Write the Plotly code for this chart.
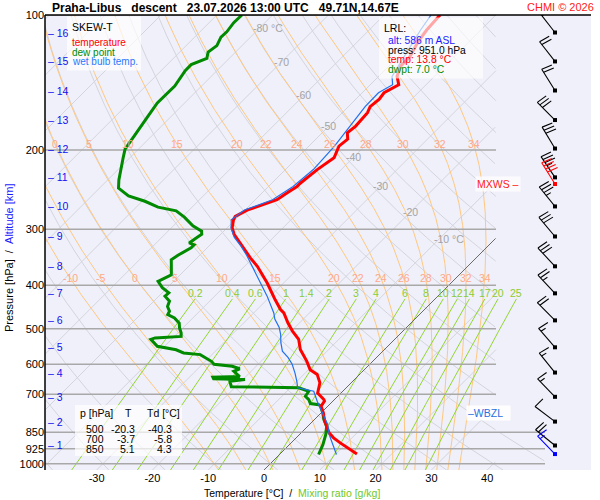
import numpy as np
import plotly.graph_objects as go

# --- sounding profiles (hPa, degC) ---
T_P = [951, 926, 898, 875, 853, 825, 797, 770, 744, 725, 719, 695, 660, 632, 617, 591,
       556, 528, 506, 485, 461, 453, 431, 395, 363, 348, 322, 308, 298, 286, 281, 272,
       269, 264, 258, 249, 241, 237, 221, 208, 196, 189, 183, 177, 165, 160, 154, 149,
       143, 137, 130, 124, 115, 108, 100]
T_C = [13.8, 11.4, 8.8, 6.7, 5.0, 3.4, 1.8, 0.4, -1.2, -1.5, -1.9, -4.2, -5.6, -7.6, -9.7, -11.8,
       -15.1, -17.2, -19.8, -22.1, -24.6, -25.8, -28.5, -33.0, -37.7, -40.4, -44.9, -47.6, -49.1, -50.3, -50.6, -49.6,
       -48.8, -47.6, -46.1, -45.5, -44.9, -44.9, -44.3, -43.4, -44.6, -44.3, -45.5, -45.2, -45.5, -46.1, -45.8, -46.1,
       -44.9, -46.7, -47.9, -47.9, -49.1, -49.7, -50.0]

TD_P = [953, 906, 860, 825, 797, 770, 744, 738, 734, 719, 707, 689, 677, 673, 655, 649, 646, 641, 639, 622,
        614, 606, 600, 591, 571, 566, 557, 547, 528, 524, 520, 511, 498, 486, 473, 465, 457, 446, 434, 423,
        416, 405, 392, 379, 360, 351, 343, 330, 325, 322, 315, 308, 303, 295, 282, 273, 268, 260, 253, 243,
        233, 219, 208, 199, 189, 168, 157, 144, 133, 129, 125, 121, 117, 112, 109, 104, 100]
TD_C = [7.0, 6.0, 4.7, 3.4, 1.7, 0.3, -1.3, -1.9, -3.6, -4.6, -5.8, -6.1, -8.5, -20.8, -22.0, -19.6, -25.4, -25.8, -21.1, -23.1,
        -22.5, -24.3, -27.9, -28.9, -32.1, -35.4, -37.3, -41.3, -43.7, -43.2, -38.8, -39.4, -40.6, -41.5, -43.3, -45.1, -45.4, -46.6, -47.2, -48.9,
        -48.8, -50.9, -52.8, -51.6, -53.4, -54.3, -53.9, -52.9, -52.9, -54.1, -53.8, -53.4, -54.0, -56.5, -59.6, -62.2, -66.1, -69.5, -73.4, -76.6,
        -78.0, -79.8, -81.2, -82.4, -82.9, -84.2, -84.9, -84.8, -85.7, -85.7, -84.0, -84.9, -84.5, -85.3, -85.2, -85.6, -85.5]

TW_P = [953, 903, 860, 818, 770, 725, 689, 677, 655, 628, 600, 580, 561, 537, 515, 497, 476, 461, 423, 395,
        369, 343, 327, 313, 298, 286, 272, 258, 241, 221, 196, 177, 160, 149, 143, 137, 124, 108, 100]
TW_C = [10.2, 7.7, 5.3, 3.3, 0.2, -2.8, -5.2, -8.7, -10.0, -11.8, -13.9, -15.8, -18.0, -19.8, -21.3, -22.8, -25.1, -26.4, -30.6, -34.2,
        -37.8, -41.6, -44.3, -47.0, -49.3, -50.7, -50.1, -46.9, -45.6, -45.0, -45.4, -46.2, -47.0, -47.1, -46.0, -47.6, -48.9, -50.8, -51.6]

# altitude levels (km) and their pressure, winds at each km
KM = list(range(1, 17))
KM_P = [910, 805, 709, 626, 550, 479, 417, 363, 311.5, 267, 230, 198.4, 171.4, 147.3, 126.9, 109.4]
WIND_DIR = [309, 307, 316, 321, 319, 315, 317, 317, 320, 321, 326, 329, 315, 328, 322, 322]
WIND_KT = [20, 10, 15, 15, 15, 20, 25, 30, 30, 35, 35, 30, 30, 20, 20, 15]
SFC_P, SFC_DIR, SFC_KT = 951, 316, 15
MXWS_P, MXWS_DIR, MXWS_KT = 238, 328, 40
WBZL_P = 769

# table / LRL info
TABLE_P = [500, 700, 850]
TABLE_T = [-20.3, -3.7, 5.1]
TABLE_TD = [-40.3, -5.8, 4.3]
LRL_ALT, LRL_PRESS, LRL_TEMP, LRL_DWPT = 586, 951.0, 13.8, 7.0

# background line families
PRESS_TICKS = [100, 200, 300, 400, 500, 600, 700, 850, 925, 1000]
TEMP_TICKS = [-30, -20, -10, 0, 10, 20, 30, 40]
ISOTHERMS = list(range(-130, 41, 10))
DRY_THETA = list(range(-40, 201, 10))
MOIST_TW = [-10, -5, 0, 5, 10, 15, 20, 22, 24, 26, 28, 30, 32, 34]
MIX_RATIOS = [0.2, 0.4, 0.6, 1, 1.4, 2, 3, 4, 6, 8, 10, 12, 14, 17, 20, 25]
MIX_LABELS = ["0.2", "0.4", "0.6", "1", "1.4", "2", "3", "4", "6", "8", "10", "12", "14", "17", "20", "25"]
ISO_LABEL_T = [-80, -70, -60, -50, -40, -30, -20, -10]
ISO_LABEL_P = [107, 127, 151, 177, 207, 240, 275, 315]

# --- geometry of the figure ---
W, H = 600, 500
ML, MR, MT, MB = 45, 9, 15, 30
PW, PH = W - ML - MR, H - MT - MB
X_LEFT, X_RIGHT = -39.25, 58.6
P_BOTTOM, P_TOP = 1032.0, 100.0
P_MIX_TOP = 429
PXD = PW / (X_RIGHT - X_LEFT)                      # px per degree
PYD = PH / (np.log10(P_BOTTOM) - np.log10(P_TOP))  # px per decade
SKEW = PYD / PXD                                   # 45 degree skew
XR1 = X_LEFT + (496 - ML) / PXD                    # right edge of diagram
XR2 = X_LEFT + (545 - ML) / PXD                    # lower levels reach further
BARB_X = X_LEFT + (555 - ML) / PXD

FONT = "Liberation Sans, Arial, sans-serif"
BG = "#f0f0fa"


def skew_x(t, p):
    return np.asarray(t, float) + SKEW * (np.log10(P_BOTTOM) - np.log10(np.asarray(p, float)))


def px(x):
    return (x - ML) / PW


def py(y):
    return (MT + PH - y) / PH


def clip(x, p, step=False):
    x = np.array(x, float)
    lim = np.where(np.asarray(p) >= 850, XR2, XR1) if step else XR1
    x[x > lim] = np.nan
    return x


fig = go.Figure()


def add_lines(xs, ps, color, width, dash=None):
    X, Y = [], []
    for x, p in zip(xs, ps):
        X += list(x) + [None]
        Y += list(p) + [None]
    fig.add_trace(go.Scatter(x=X, y=Y, mode="lines", line=dict(color=color, width=width, dash=dash),
                             hoverinfo="skip", showlegend=False, connectgaps=False))


P_FINE = np.logspace(np.log10(P_BOTTOM), np.log10(P_TOP), 500)

# isotherms and dry adiabats
add_lines([clip(skew_x(np.full_like(P_FINE, t), P_FINE), P_FINE) for t in ISOTHERMS if t != 0],
          [P_FINE] * (len(ISOTHERMS) - 1), "#d4d4dc", 1)
dry = [(th + 273.15) * (P_FINE / 1000.0) ** 0.2857 - 273.15 for th in DRY_THETA]
add_lines([clip(skew_x(t, P_FINE), P_FINE, step=True) for t in dry], [P_FINE] * len(dry), "#d4d4dc", 1)

# pseudo-adiabats (RK4 in ln p)
RD, CP, LV, EPS = 287.04, 1005.7, 2.501e6, 0.622


def dtdlnp(tk, p):
    tc = tk - 273.15
    e = 6.112 * np.exp(17.67 * tc / (tc + 243.5))
    rs = EPS * e / (p - e)
    return (RD * tk + LV * rs) / (CP + LV * LV * rs * EPS / (RD * tk * tk))


def integrate(t0, plev):
    lnp = np.log(plev)
    t = np.array(t0, float)
    out = [t.copy()]
    for a, b in zip(lnp[:-1], lnp[1:]):
        h = b - a
        pa, pm, pb = np.exp(a), np.exp(a + h / 2), np.exp(b)
        k1 = dtdlnp(t, pa)
        k2 = dtdlnp(t + h / 2 * k1, pm)
        k3 = dtdlnp(t + h / 2 * k2, pm)
        k4 = dtdlnp(t + h * k3, pb)
        t = t + h / 6 * (k1 + 2 * k2 + 2 * k3 + k4)
        out.append(t.copy())
    return np.array(out)


p_up = np.logspace(3, 2, 400)
p_dn = np.logspace(3, np.log10(P_BOTTOM), 10)
tk0 = np.array(MOIST_TW, float) + 273.15
up = integrate(tk0, p_up) - 273.15
dn = integrate(tk0, p_dn) - 273.15
P_MOIST = np.concatenate([p_dn[::-1], p_up[1:]])
moist = [np.concatenate([dn[::-1, i], up[1:, i]]) for i in range(len(MOIST_TW))]
add_lines([clip(skew_x(t, P_MOIST), P_MOIST) for t in moist], [P_MOIST] * len(moist), "#ffc880", 1)

# mixing ratio lines
P_MIX = np.logspace(np.log10(P_BOTTOM), np.log10(P_MIX_TOP), 100)


def td_from_w(w, p):
    e = w * p / (622.0 + w)
    a = np.log(e / 6.112)
    return 243.5 * a / (17.67 - a)


add_lines([skew_x(td_from_w(w, P_MIX), P_MIX) for w in MIX_RATIOS], [P_MIX] * len(MIX_RATIOS), "#92d630", 1)

# 0 degC isotherm highlighted
add_lines([clip(skew_x(np.zeros_like(P_FINE), P_FINE), P_FINE)], [P_FINE], "#6a6a6a", 1)

# pressure grid lines
add_lines([[X_LEFT, XR2 if p >= 850 else XR1] for p in PRESS_TICKS], [[p, p] for p in PRESS_TICKS], "#a8a8a8", 1.5)

# profiles
fig.add_trace(go.Scatter(x=skew_x(TD_C, TD_P), y=TD_P, mode="lines", line=dict(color="#008a00", width=3),
                         hoverinfo="skip", showlegend=False))
fig.add_trace(go.Scatter(x=skew_x(T_C, T_P), y=T_P, mode="lines", line=dict(color="#ff0000", width=3),
                         hoverinfo="skip", showlegend=False))
fig.add_trace(go.Scatter(x=skew_x(TW_C, TW_P), y=TW_P, mode="lines", line=dict(color="#2070ee", width=1.2),
                         hoverinfo="skip", showlegend=False))


# wind barbs
def barb(p, wdir, kt, L=25.0, SP=3.6, FL=11.0):
    d = np.radians(wdir)
    s = np.array([np.sin(d), -np.cos(d)])
    n = np.array([-s[1], s[0]])
    f = n - 0.15 * s
    f = f / np.hypot(*f)
    segs = [(np.zeros(2), L * s)]
    full, half = kt // 10, (kt % 10) >= 5
    for i in range(full):
        a = L * s - i * SP * s
        segs.append((a, a + FL * f))
    if half:
        a = L * s - max(full, 1) * SP * s
        segs.append((a, a + FL / 2 * f))
    X, Y = [], []
    for a, b in segs:
        for q in (a, b):
            X.append(BARB_X + q[0] / PXD)
            Y.append(10 ** (np.log10(p) + q[1] / PYD))
        X.append(None)
        Y.append(None)
    return X, Y


def add_barbs(ps, dirs, kts, color):
    X, Y = [], []
    for p, d, k in zip(ps, dirs, kts):
        bx, by = barb(p, d, k)
        X += bx
        Y += by
    fig.add_trace(go.Scatter(x=X, y=Y, mode="lines", line=dict(color=color, width=1.1),
                             hoverinfo="skip", showlegend=False))
    fig.add_trace(go.Scatter(x=[BARB_X] * len(ps), y=ps, mode="markers",
                             marker=dict(symbol="square", size=4, color=color),
                             hoverinfo="skip", showlegend=False))


add_barbs(KM_P, WIND_DIR, WIND_KT, "#000000")
add_barbs([MXWS_P], [MXWS_DIR], [MXWS_KT], "#ff0000")
add_barbs([SFC_P], [SFC_DIR], [SFC_KT], "#0000ff")

ann = []


def text(x, y, s, color="black", size=11, xanchor="center", xref="paper", yref="paper", bg=None, **kw):
    a = dict(x=x, y=y, xref=xref, yref=yref, text=s, showarrow=False, xanchor=xanchor, yanchor="middle",
             font=dict(family=FONT, size=size, color=color))
    if bg:
        a["bgcolor"] = bg
        a["borderpad"] = 1
    a.update(kw)
    ann.append(a)


# moist adiabat labels (two rows)
for tw, t in zip(MOIST_TW, moist):
    for prow in (194, 386):
        if prow == 194 and tw < 0:
            continue
        xl = np.interp(np.log10(prow), np.log10(P_MOIST[::-1]), skew_x(t, P_MOIST)[::-1])
        text(xl, np.log10(prow), str(tw), "#ffa888", 10.5, xref="x", yref="y")

# mixing ratio labels, just above the top end of each line
for w, lab in zip(MIX_RATIOS, MIX_LABELS):
    text(float(skew_x(td_from_w(w, P_MIX_TOP), P_MIX_TOP)), np.log10(417), lab, "#8ccc30", 10.5,
         xref="x", yref="y")

# isotherm labels
for t, p in zip(ISO_LABEL_T, ISO_LABEL_P):
    xl = float(skew_x(t, p))
    if t in (-80, -10):
        text(xl, np.log10(p), f"{t} °C", "#a4a4a4", 10.5, xanchor="left", xref="x", yref="y", xshift=-8)
    else:
        text(xl, np.log10(p), str(t), "#a4a4a4", 10.5, xref="x", yref="y")

# altitude labels
for k, p in zip(KM, KM_P):
    text(0, np.log10(p), f"\u2013 {k}", "#1010ee", 10.5, xanchor="left", yref="y", xshift=1)

# MXWS / WBZL markers
text(px(521), np.log10(MXWS_P), "MXWS \u2013", "#ff2020", 10.5, xanchor="right", yref="y",
     bg="rgba(255,255,255,0.75)")
text(px(466), np.log10(WBZL_P), "\u2013WBZL\u00a0\u00a0", "#2a6ee0", 10.5, xanchor="left", yref="y",
     bg="rgba(255,255,255,0.9)")

# title, copyright
sp = "\u00a0" * 3
text(px(50), py(8), f"<b>Praha-Libus{sp}descent{sp}23.07.2026 13:00 UTC{sp}49.71N,14.67E</b>", "black", 12,
     xanchor="left")
text(px(596), py(7), "CHMI © 2026", "#ff2020", 11, xanchor="right")

# legend box
text(px(70), py(27), "SKEW-T", "black", 10.5, xanchor="left")
for i, (s, c) in enumerate([("temperature", "#ff0000"), ("dew point", "#008a00"), ("wet bulb temp.", "#2a78ff")]):
    text(px(70), py(42 + 10 * i), s, c, 10, xanchor="left")

# LRL box
text(px(382), py(27.5), "LRL:", "black", 10.5, xanchor="left")
lrl = [(f"alt: {LRL_ALT} m ASL", "#1a1aff"), (f"press: {LRL_PRESS:.1f} hPa", "black"),
       (f"temp: {LRL_TEMP:.1f} °C", "#ff0000"), (f"dwpt: {LRL_DWPT:.1f} °C", "#008a00")]
for i, (s, c) in enumerate(lrl):
    text(px(386), py(40.5 + 9.6 * i), s, c, 10.3, xanchor="left")

# level table
text(px(78), py(413), "p [hPa]", "black", 10.5, xanchor="left")
text(px(128), py(413), "T", "black", 10.5)
text(px(145), py(413), "Td [°C]", "black", 10.5, xanchor="left")
for i, (p, t, td) in enumerate(zip(TABLE_P, TABLE_T, TABLE_TD)):
    y = py(429 + 10 * i)
    text(px(84), y, str(p), "black", 10.5, xanchor="left")
    text(px(137), y, f"{t:.1f}", "black", 10.5, xanchor="right")
    text(px(174), y, f"{td:.1f}", "black", 10.5, xanchor="right")

# axis titles
text(px(292), py(493), "Temperature [°C]\u00a0\u00a0/\u00a0\u00a0<span style='color:#70c828'>Mixing ratio [g/kg]</span>",
     "black", 10.5)
text(px(9), py(258), "Pressure [hPa]\u00a0\u00a0/\u00a0\u00a0<span style='color:#1a1aff'>Altitude [km]</span>",
     "black", 11, textangle=-90)

shapes = [
    dict(type="rect", xref="paper", yref="paper", x0=px(67), x1=px(141), y0=py(70.5), y1=py(16.5),
         fillcolor="rgba(255,255,255,0.7)", line_width=0, layer="above"),
    dict(type="rect", xref="paper", yref="paper", x0=px(379), x1=px(483), y0=py(78.5), y1=py(17.5),
         fillcolor="rgba(255,255,255,0.65)", line_width=0, layer="above"),
    dict(type="rect", xref="paper", yref="paper", x0=px(75), x1=px(182), y0=py(456), y1=py(405),
         fillcolor="rgba(255,255,255,0.7)", line_width=0, layer="above"),
    dict(type="line", xref="paper", yref="paper", x0=0, x1=1, y0=1, y1=1, line=dict(color="black", width=1.5)),
    dict(type="line", xref="paper", yref="paper", x0=0, x1=0, y0=0, y1=1, line=dict(color="black", width=1.5)),
]

fig.update_layout(
    width=W, height=H, autosize=False,
    margin=dict(l=ML, r=MR, t=MT, b=MB),
    paper_bgcolor="white", plot_bgcolor=BG,
    font=dict(family=FONT, size=11, color="black"),
    xaxis=dict(range=[X_LEFT, X_RIGHT], showgrid=False, zeroline=False, showline=False,
               tickvals=TEMP_TICKS, ticktext=[str(t) for t in TEMP_TICKS], ticks="",
               tickfont=dict(size=11, family=FONT)),
    yaxis=dict(type="log", range=[np.log10(P_BOTTOM), np.log10(P_TOP)], showgrid=False, zeroline=False,
               showline=False, tickvals=PRESS_TICKS, ticktext=[str(p) for p in PRESS_TICKS], ticks="",
               tickfont=dict(size=11, family=FONT)),
    annotations=ann,
    shapes=shapes,
)

# the page's default body margin would shift the whole chart by 8 px
fig.write_html("out.html", config={"displayModeBar": False},
               post_script="document.body.style.margin='0px';")
